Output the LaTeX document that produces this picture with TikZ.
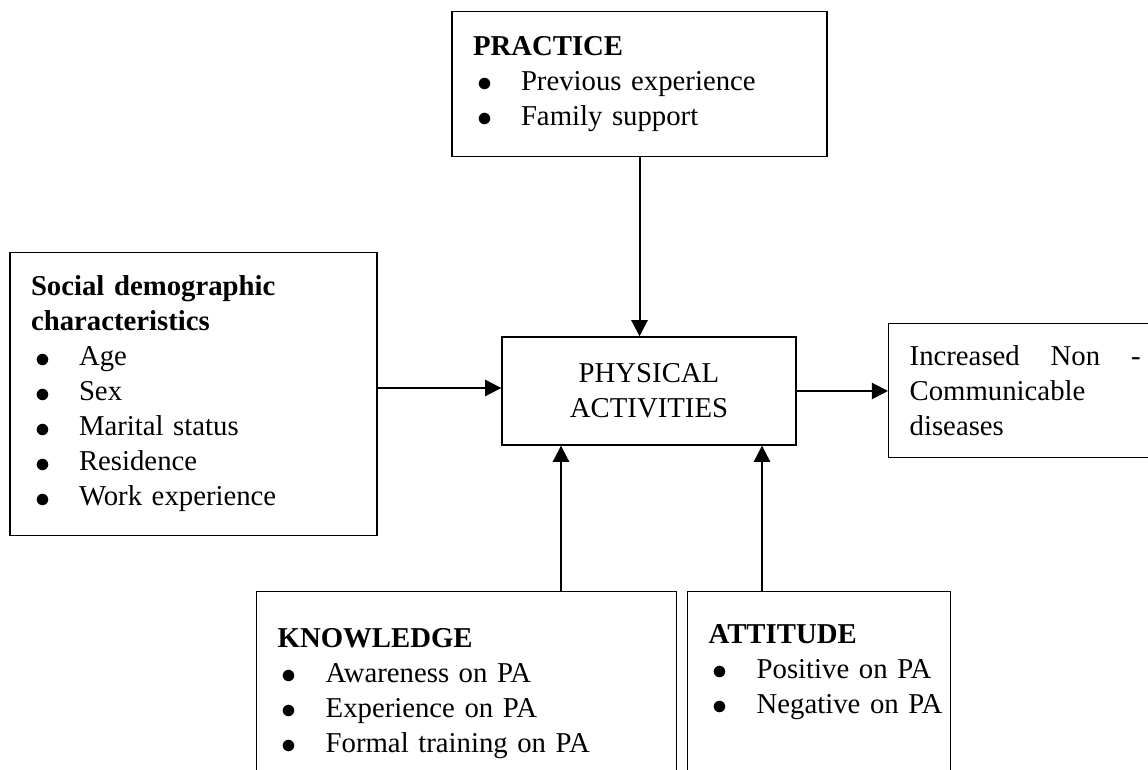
\documentclass[tikz,border=0pt]{standalone}
\usepackage{fontspec}
\setmainfont{Liberation Serif}
\usetikzlibrary{arrows.meta}

\newlength\pxu
\setlength\pxu{0.4pt}
\newcommand\itm[1]{\mbox{\hspace*{4\pxu}\makebox[44\pxu][l]{\raisebox{-0.5pt}{\large$\bullet$}}#1}}
\newcommand\openfoot{\rule[-80\pxu]{0pt}{0pt}}

\begin{document}
\begin{tikzpicture}[x=0.4pt,y=-0.4pt,
  box/.style={draw,line width=0.55pt,rectangle,inner ysep=0pt,inner xsep=21\pxu,
    font=\fontsize{11.5pt}{14pt}\selectfont},
  listbox/.style={box,align=left,anchor=north west},
  link/.style={line width=0.8pt,-{Triangle[length=6.5pt,width=6.5pt]}}]

  \useasboundingbox (0,0) rectangle (1148,770);
  \clip (0,0) rectangle (1148,770);

  % top and left factors
  \node[box,align=left,text width=333\pxu,minimum height=145\pxu] (prac) at (639.5,84)
    {\textbf{PRACTICE}\\ \itm{Previous experience}\\ \itm{Family support}};

  \node[box,align=left,text width=325\pxu,minimum height=283\pxu] (soc) at (193.5,394)
    {\textbf{Social demographic}\\ \textbf{characteristics}\\
     \itm{Age}\\ \itm{Sex}\\ \itm{Marital status}\\ \itm{Residence}\\ \itm{Work experience}};

  % centre and outcome
  \node[box,align=center,minimum width=294\pxu,minimum height=108\pxu] (phys) at (649,391)
    {PHYSICAL\\ACTIVITIES};

  \node[listbox,text width=231\pxu,minimum height=134\pxu,inner ysep=0pt] (ncd) at (888,323)
    {\rule{0pt}{14\pxu}Increased\hfill Non\hfill -\\ Communicable\\ diseases};

  % bottom factors, open at the foot
  \node[listbox,text width=378\pxu,inner ysep=37\pxu] (know) at (256,591)
    {\textbf{KNOWLEDGE}\\ \itm{Awareness on PA}\\ \itm{Experience on PA}\\
     \itm{Formal training on PA}\openfoot};

  \node[listbox,text width=221\pxu,inner ysep=33\pxu] (att) at (687,591)
    {\textbf{ATTITUDE}\\ \itm{Positive on PA}\\ \itm{Negative on PA}\openfoot\\ \openfoot};

  \coordinate (kx) at (561,0);
  \coordinate (ax) at (762,0);
  \coordinate (sy) at (0,388);

  \draw[link] (prac.south) -- (prac.south |- phys.north);
  \draw[link] (soc.east |- sy) -- (phys.west |- sy);
  \draw[link] (phys.east) -- (phys.east -| ncd.west);
  \draw[link] (kx |- know.north) -- (kx |- phys.south);
  \draw[link] (ax |- att.north) -- (ax |- phys.south);

\end{tikzpicture}
\end{document}
